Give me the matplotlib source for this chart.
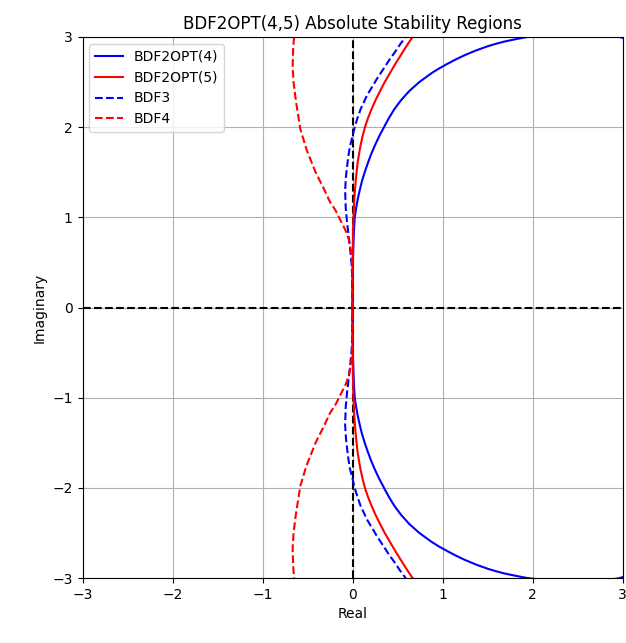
import matplotlib
matplotlib.use("Agg")
import matplotlib.pyplot as plt

# Boundary-locus curves (lower half, then upper half)

# BDF2OPT(4)
opt4_x_low = [3.2, 2.97, 2.75, 2.5, 2.35, 2.2, 2.07, 1.94, 1.81, 1.69, 1.595, 1.51, 1.37, 1.25, 1.145,
              1.05, 0.96, 0.88, 0.742, 0.63, 0.54, 0.465, 0.404, 0.35, 0.297, 0.25, 0.207, 0.17, 0.135,
              0.105, 0.08, 0.058, 0.04, 0.025, 0.016, 0.01, 0.004, 0.001]
opt4_y_low = [-2.93, -3.0, -3.04, -3.05, -3.04, -3.03, -3.015, -3.0, -2.975, -2.95, -2.925, -2.9, -2.85, -2.8, -2.75,
              -2.7, -2.65, -2.6, -2.5, -2.4, -2.3, -2.2, -2.1, -2.0, -1.9, -1.8, -1.7, -1.6, -1.5,
              -1.4, -1.3, -1.2, -1.1, -1.0, -0.85, -0.7, -0.5, -0.3]
opt4_x_up = [0.0, 0.001, 0.004, 0.01, 0.016, 0.025, 0.04, 0.058, 0.08, 0.105, 0.135, 0.17, 0.207, 0.25, 0.297,
             0.35, 0.404, 0.465, 0.54, 0.63, 0.742, 0.88, 0.96, 1.05, 1.145, 1.25, 1.37, 1.51, 1.595,
             1.69, 1.81, 1.94, 2.07, 2.2, 2.35, 2.5, 2.75, 2.97, 3.2]
opt4_y_up = [0.0, 0.3, 0.5, 0.7, 0.85, 1.0, 1.1, 1.2, 1.3, 1.4, 1.5, 1.6, 1.7, 1.8, 1.9,
             2.0, 2.1, 2.2, 2.3, 2.4, 2.5, 2.6, 2.65, 2.7, 2.75, 2.8, 2.85, 2.9, 2.925,
             2.95, 2.975, 3.0, 3.015, 3.03, 3.04, 3.05, 3.04, 3.0, 2.93]

# BDF2OPT(5)
opt5_x_low = [0.77, 0.667, 0.6, 0.537, 0.475, 0.416, 0.358, 0.306, 0.256, 0.212, 0.172, 0.138, 0.112,
              0.09, 0.072, 0.056, 0.035, 0.02, 0.01, 0.005, 0.002]
opt5_y_low = [-3.15, -3.0, -2.9, -2.8, -2.7, -2.6, -2.5, -2.4, -2.3, -2.2, -2.1, -2.0, -1.9,
              -1.8, -1.7, -1.6, -1.4, -1.2, -1.0, -0.8, -0.5]
opt5_x_up = [0.0, 0.002, 0.005, 0.01, 0.02, 0.035, 0.056, 0.072, 0.09, 0.112, 0.138, 0.172, 0.212,
             0.256, 0.306, 0.358, 0.416, 0.475, 0.537, 0.6, 0.667, 0.77]
opt5_y_up = [0.0, 0.5, 0.8, 1.0, 1.2, 1.4, 1.6, 1.7, 1.8, 1.9, 2.0, 2.1, 2.2,
             2.3, 2.4, 2.5, 2.6, 2.7, 2.8, 2.9, 3.0, 3.15]

# BDF3
bdf3_x_low = [0.66, 0.59, 0.53, 0.47, 0.405, 0.34, 0.28, 0.22, 0.16, 0.09, 0.055, 0.03, 0.0, -0.03,
              -0.05, -0.072, -0.082, -0.075, -0.06, -0.05, -0.027, -0.01, -0.002]
bdf3_y_low = [-3.15, -3.0, -2.92, -2.83, -2.74, -2.64, -2.55, -2.45, -2.35, -2.2, -2.1, -2.02, -1.9, -1.78,
              -1.65, -1.46, -1.3, -1.1, -0.94, -0.857, -0.654, -0.478, -0.315]
bdf3_x_up = [0.0, -0.002, -0.01, -0.027, -0.05, -0.06, -0.075, -0.082, -0.072, -0.05, -0.03, 0.0, 0.03,
             0.055, 0.09, 0.16, 0.22, 0.28, 0.34, 0.405, 0.47, 0.53, 0.59, 0.66]
bdf3_y_up = [0.0, 0.315, 0.478, 0.654, 0.857, 0.94, 1.1, 1.3, 1.46, 1.65, 1.78, 1.9, 2.02,
             2.1, 2.2, 2.35, 2.45, 2.55, 2.64, 2.74, 2.83, 2.92, 3.0, 3.15]

# BDF4
bdf4_x_low = [-0.63, -0.65, -0.66, -0.665, -0.655, -0.63, -0.58, -0.51, -0.41, -0.31, -0.25, -0.19, -0.12,
              -0.075, -0.04, -0.016, -0.006, 0.0]
bdf4_y_low = [-3.2, -3.0, -2.85, -2.67, -2.5, -2.3, -1.98, -1.75, -1.5, -1.3, -1.17, -1.08, -0.94,
              -0.85, -0.75, -0.62, -0.52, -0.31]
bdf4_x_up = [0.0, 0.0, -0.006, -0.016, -0.04, -0.075, -0.12, -0.19, -0.25, -0.31, -0.41, -0.51, -0.58,
             -0.63, -0.655, -0.665, -0.66, -0.65, -0.63]
bdf4_y_up = [0.0, 0.31, 0.52, 0.62, 0.75, 0.85, 0.94, 1.08, 1.17, 1.3, 1.5, 1.75, 1.98,
             2.3, 2.5, 2.67, 2.85, 3.0, 3.2]

labels = ["BDF2OPT(4)", "BDF2OPT(5)", "BDF3", "BDF4"]
ticks = [-3, -2, -1, 0, 1, 2, 3]

fig = plt.figure(figsize=(6.26, 6.43), dpi=100)
ax = fig.add_axes([82.5 / 626, 1 - 578 / 643, 540 / 626, 541 / 643])

ax.axhline(0, color="k", linestyle="--", linewidth=1.5)
ax.axvline(0, color="k", linestyle="--", linewidth=1.5)

ax.plot(opt4_x_low + opt4_x_up, opt4_y_low + opt4_y_up, color="blue", linestyle="-", linewidth=1.5, label=labels[0])
ax.plot(opt5_x_low + opt5_x_up, opt5_y_low + opt5_y_up, color="red", linestyle="-", linewidth=1.5, label=labels[1])
ax.plot(bdf3_x_low + bdf3_x_up, bdf3_y_low + bdf3_y_up, color="blue", linestyle="--", linewidth=1.5, label=labels[2])
ax.plot(bdf4_x_low + bdf4_x_up, bdf4_y_low + bdf4_y_up, color="red", linestyle="--", linewidth=1.5, label=labels[3])

ax.set_xlim(-3, 3)
ax.set_ylim(-3, 3)
ax.set_xticks(ticks)
ax.set_yticks(ticks)
ax.grid(True)
ax.set_xlabel("Real")
ax.set_ylabel("Imaginary")
ax.set_title("BDF2OPT(4,5) Absolute Stability Regions")
ax.legend(loc="upper left")

fig.savefig("out.png", dpi=100)
